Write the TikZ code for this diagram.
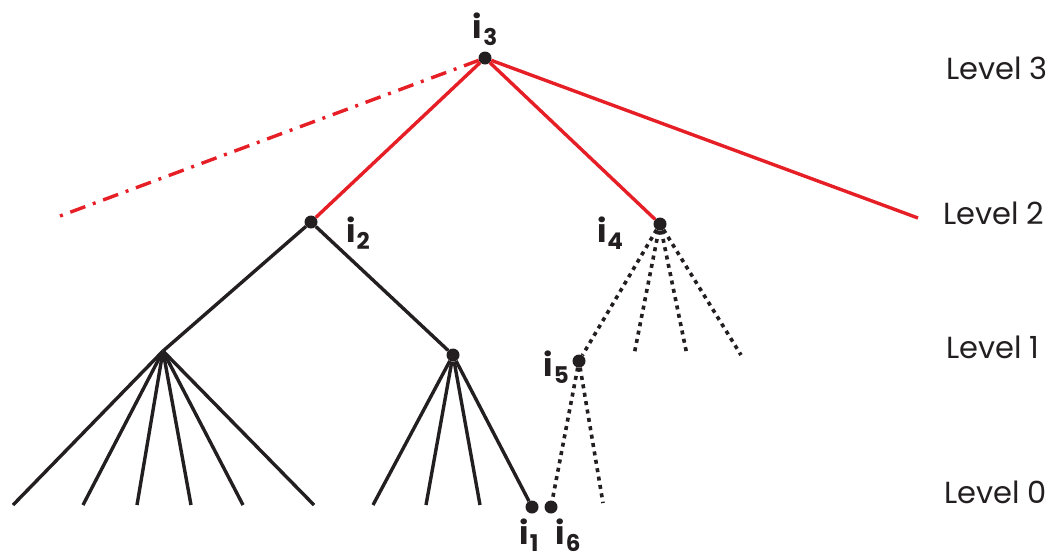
\documentclass[tikz,border=0pt]{standalone}
\usepackage{fontspec}
\setmainfont{Poppins}
\usetikzlibrary{positioning}
\definecolor{treered}{RGB}{230,30,38}
\definecolor{treeblack}{RGB}{35,31,32}
\newcommand{\isub}[1]{i\kern1pt\raisebox{-7pt}{\fontsize{23}{23}\selectfont #1}}
\tikzset{
  vertex/.style={circle, fill=treeblack, inner sep=0pt, minimum size=13pt},
  branch/.style={line width=3.4pt, draw=treeblack},
  redbranch/.style={line width=3.4pt, draw=treered},
  dotbranch/.style={line width=3.6pt, draw=treeblack, dash pattern=on 4pt off 4.5pt},
  ilabel/.style={font=\fontsize{32}{32}\selectfont\bfseries, inner sep=0pt, text=treeblack},
  levellabel/.style={font=\fontsize{30.5}{30.5}\selectfont, anchor=west, inner sep=0pt, text=treeblack}
}

\begin{document}
\begin{tikzpicture}[x=1pt, y=-1pt]
    \useasboundingbox (0,0) rectangle (1057,558);
    % Vertices
    \node[vertex] (i3) at (485,58) {};
    \node[vertex] (i2) at (311,222) {};
    \node[vertex] (i4) at (660,224) {};
    \coordinate (a1) at (163,351);
    \node[vertex] (b1) at (453,355) {};
    \node[vertex] (i5) at (579,361) {};
    \node[vertex] (i1) at (532,507) {};
    \node[vertex] (i6) at (551,507) {};
    \coordinate (rr) at (918,218);
    \coordinate (dd) at (60,216);

    % Level 3 -> Level 2
    \draw[redbranch] (i3) -- (i2);
    \draw[redbranch] (i3) -- (i4);
    \draw[redbranch] (i3) -- (rr);
    \draw[redbranch, dash pattern=on 3pt off 8pt on 16pt off 8pt] (dd) -- (i3);

    % Level 2 -> Level 1
    \draw[branch] (i2) -- (a1);
    \draw[branch] (i2) -- (b1);
    \draw[dotbranch] (i4) -- (i5);
    \foreach \xi [count=\k] in {634,687,741}{
      \coordinate (c\k) at (\xi,355);
      \draw[dotbranch] (i4) -- (c\k);
    }

    % Level 1 -> Level 0
    \foreach \xi [count=\k] in {13,83,137,191,243,314}{
      \coordinate (a0\k) at (\xi,505);
      \draw[branch] (a1) -- (a0\k);
    }
    \foreach \xi [count=\k] in {373,426,480}{
      \coordinate (b0\k) at (\xi,505);
      \draw[branch] (b1) -- (b0\k);
    }
    \draw[branch] (b1) -- (i1);
    \draw[dotbranch] (i5) -- (i6);
    \coordinate (e0) at (603,503);
    \draw[dotbranch] (i5) -- (e0);

    % Vertex labels
    \node[ilabel] (l3) at (485,29) {\isub{3}};
    \node[ilabel] (l2) at (358,233) {\isub{2}};
    \node[ilabel] (l4) at (610,233) {\isub{4}};
    \node[ilabel] (l5) at (556,367) {\isub{5}};
    \node[ilabel] (l1) at (529,535) {\isub{1}};
    \node[ilabel] (l6) at (568,535) {\isub{6}};

    % Level labels
    \node[levellabel] (lv3) at (946,68) {Level 3};
    \node[levellabel] (lv2) at (943,213) {Level 2};
    \node[levellabel] (lv1) at (946,347) {Level 1};
    \node[levellabel] (lv0) at (944,492) {Level 0};
\end{tikzpicture}
\end{document}
